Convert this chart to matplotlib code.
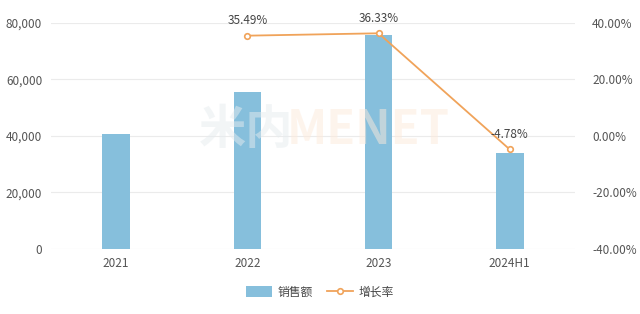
import matplotlib.pyplot as plt
import numpy as np
from matplotlib.ticker import FuncFormatter

plt.rcParams['font.family'] = ['Noto Sans CJK SC', 'DejaVu Sans']

# === 数据 ===
categories = ['2021', '2022', '2023', '2024H1']
sales = [40800, 55600, 75700, 34000]
growth_cats = ['2022', '2023', '2024H1']
growth = [35.49, 36.33, -4.78]

c_bar = '#86bfdc'
c_line = '#f0a35a'
c_text = '#555555'

fig = plt.figure(figsize=(6.4, 3.14), dpi=100)
ax1 = fig.add_axes([0.079, 0.207, 0.820, 0.720])
ax2 = ax1.twinx()

x = np.arange(len(categories))
ax1.bar(x, sales, width=0.21, color=c_bar, zorder=2, label='销售额')
ax1.set_ylim(0, 80000)
ax1.set_xlim(-0.5, len(categories) - 0.5)
ax1.set_yticks(np.arange(0, 80001, 20000))
ax1.yaxis.set_major_formatter(FuncFormatter(lambda v, p: f'{int(v):,}'))
ax1.set_xticks(x)
ax1.set_xticklabels(categories)
ax1.grid(axis='y', color='#ebebeb', linewidth=0.8, zorder=0)
ax1.set_axisbelow(True)

gx = [categories.index(c) for c in growth_cats]
ax2.plot(gx, growth, color=c_line, linewidth=1.3, marker='o', markersize=4,
         markerfacecolor='white', markeredgecolor=c_line, markeredgewidth=1.2,
         zorder=3, label='增长率')
for xi, g in zip(gx, growth):
    ax2.annotate(f'{g:.2f}%', xy=(xi, g), xytext=(0, 6), textcoords='offset points',
                 ha='center', va='bottom', fontsize=8.5, color='#444444')
ax2.set_ylim(-40, 40)
ax2.set_yticks(np.arange(-40, 41, 20))
ax2.yaxis.set_major_formatter(FuncFormatter(lambda v, p: f'{v:.2f}%'))

for ax in (ax1, ax2):
    for s in ax.spines.values():
        s.set_visible(False)
    ax.tick_params(length=0, labelsize=8.5, colors=c_text)
ax1.tick_params(axis='y', pad=6)
ax2.tick_params(axis='y', pad=12)
ax1.tick_params(axis='x', pad=6)

# 水印
fig.text(0.385, 0.585, '米内', fontsize=34, color='#e6ecef', alpha=0.5,
         ha='center', va='center', fontweight='bold', zorder=0)
fig.text(0.575, 0.585, 'MENET', fontsize=34, color='#fdeadb', alpha=0.5,
         ha='center', va='center', fontweight='bold', zorder=0)

h1, l1 = ax1.get_legend_handles_labels()
h2, l2 = ax2.get_legend_handles_labels()
fig.legend(h1 + h2, l1 + l2, loc='center', bbox_to_anchor=(0.5, 0.07), ncol=2,
           frameon=False, fontsize=8.5, labelcolor='#444444', handlelength=2.2,
           handleheight=1.1, columnspacing=1.2, handletextpad=0.5)

plt.savefig('out.png', dpi=100)
